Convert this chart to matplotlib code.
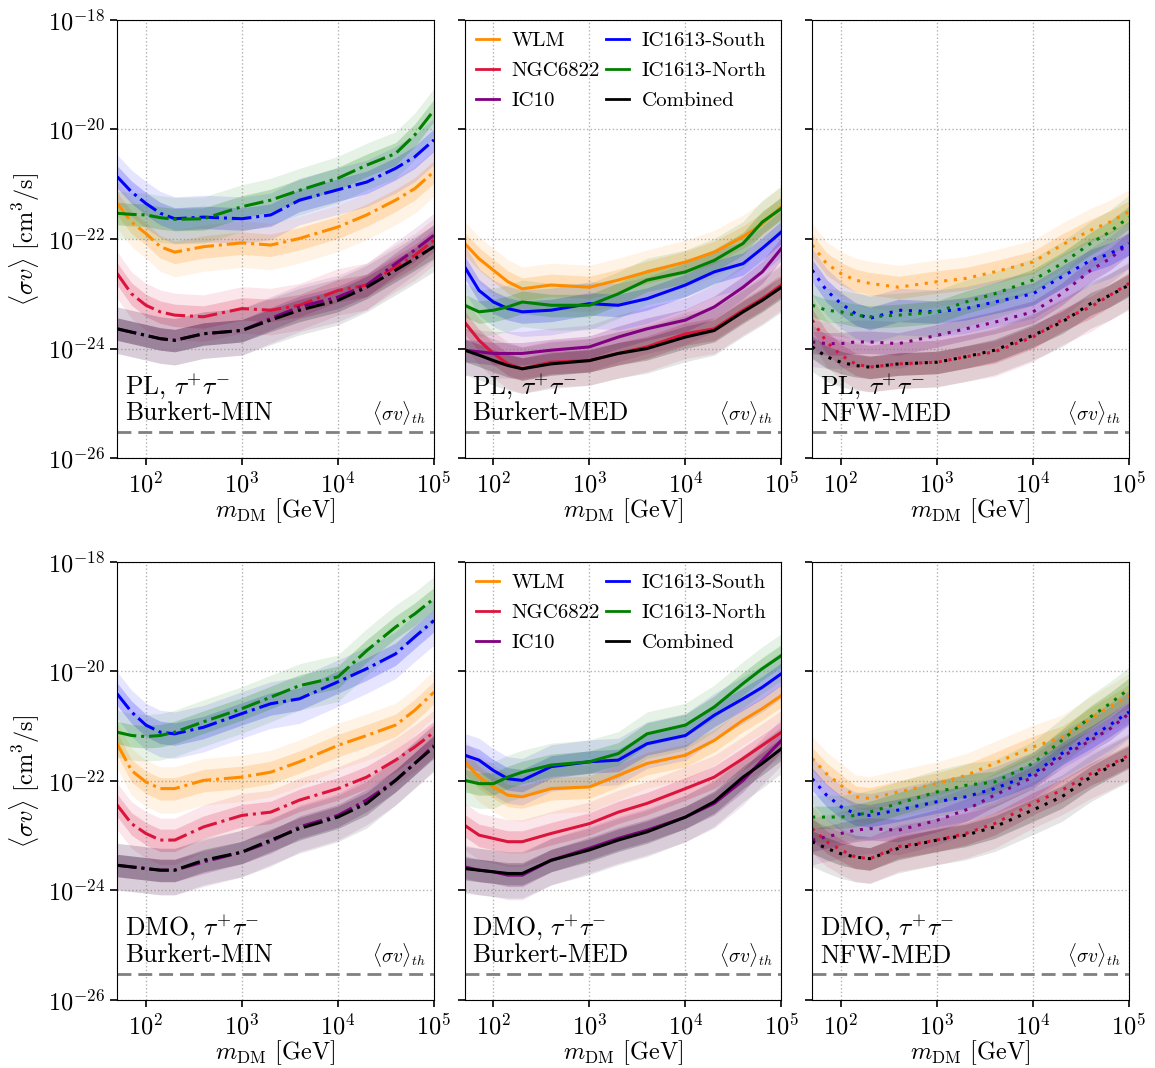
import numpy as np
import matplotlib
matplotlib.use("Agg")
import matplotlib.pyplot as plt

plt.rcParams['font.family'] = ['cmr10', 'DejaVu Serif']
plt.rcParams['mathtext.fontset'] = 'cm'
plt.rcParams['axes.formatter.use_mathtext'] = True

# dark matter masses (log10 GeV) at which the limits are tabulated
log_mass = [1.7, 1.85, 2.0, 2.15, 2.3, 2.6, 3.0, 3.3, 3.6, 4.0, 4.3, 4.6, 4.8, 5.0]

sources = ['WLM', 'NGC6822', 'IC10', 'IC1613-South', 'IC1613-North', 'Combined']
colors = ['darkorange', 'crimson', 'purple', 'blue', 'green', 'black']

# log10 <sigma v> upper limits [cm^3/s], one list per source
pl_bur_min = {
    'WLM':          [-21.35, -21.69, -21.90, -22.14, -22.24, -22.14, -22.07, -22.11, -21.99, -21.78, -21.56, -21.29, -21.08, -20.77],
    'NGC6822':      [-22.63, -23.00, -23.21, -23.33, -23.39, -23.42, -23.27, -23.30, -23.21, -22.94, -22.84, -22.51, -22.30, -22.02],
    'IC10':         [-23.64, -23.70, -23.76, -23.82, -23.85, -23.73, -23.67, -23.45, -23.24, -23.06, -22.84, -22.45, -22.20, -21.93],
    'IC1613-South': [-20.86, -21.14, -21.35, -21.53, -21.63, -21.60, -21.63, -21.56, -21.29, -21.10, -20.96, -20.71, -20.50, -20.19],
    'IC1613-North': [-21.53, -21.55, -21.56, -21.61, -21.64, -21.63, -21.41, -21.29, -21.11, -20.89, -20.65, -20.44, -20.10, -19.65],
    'Combined':     [-23.64, -23.70, -23.76, -23.82, -23.85, -23.73, -23.67, -23.48, -23.30, -23.12, -22.88, -22.57, -22.36, -22.14],
}
pl_bur_med = {
    'WLM':          [-22.08, -22.36, -22.57, -22.78, -22.91, -22.84, -22.88, -22.75, -22.60, -22.42, -22.24, -21.96, -21.72, -21.41],
    'NGC6822':      [-23.52, -23.85, -24.09, -24.28, -24.37, -24.25, -24.22, -24.09, -23.97, -23.73, -23.64, -23.30, -23.09, -22.84],
    'IC10':         [-24.03, -24.06, -24.09, -24.09, -24.09, -24.03, -23.97, -23.79, -23.64, -23.48, -23.24, -22.88, -22.60, -22.17],
    'IC1613-South': [-22.51, -22.94, -23.15, -23.27, -23.33, -23.30, -23.18, -23.21, -23.09, -22.84, -22.60, -22.45, -22.17, -21.87],
    'IC1613-North': [-23.21, -23.33, -23.30, -23.24, -23.15, -23.21, -23.21, -23.00, -22.75, -22.60, -22.39, -22.08, -21.69, -21.44],
    'Combined':     [-24.03, -24.12, -24.22, -24.31, -24.37, -24.28, -24.22, -24.09, -24.00, -23.79, -23.67, -23.33, -23.12, -22.88],
}
pl_nfw_med = {
    'WLM':          [-22.11, -22.45, -22.63, -22.75, -22.81, -22.88, -22.78, -22.72, -22.60, -22.42, -22.11, -21.84, -21.69, -21.50],
    'NGC6822':      [-23.48, -23.88, -24.12, -24.28, -24.34, -24.28, -24.25, -24.15, -24.06, -23.79, -23.48, -23.24, -23.03, -22.81],
    'IC10':         [-23.88, -23.91, -23.91, -23.88, -23.88, -23.91, -23.76, -23.64, -23.52, -23.33, -23.00, -22.57, -22.36, -22.08],
    'IC1613-South': [-22.57, -22.94, -23.18, -23.36, -23.45, -23.30, -23.33, -23.27, -23.15, -23.00, -22.69, -22.39, -22.27, -22.08],
    'IC1613-North': [-23.21, -23.30, -23.33, -23.39, -23.42, -23.39, -23.33, -23.15, -23.00, -22.75, -22.45, -22.08, -21.87, -21.60],
    'Combined':     [-23.97, -24.15, -24.25, -24.31, -24.34, -24.28, -24.25, -24.15, -24.03, -23.76, -23.52, -23.18, -23.03, -22.84],
}
dmo_bur_min = {
    'WLM':          [-21.32, -21.81, -22.02, -22.14, -22.14, -21.99, -21.93, -21.84, -21.65, -21.35, -21.17, -20.98, -20.71, -20.38],
    'NGC6822':      [-22.44, -22.78, -22.96, -23.08, -23.08, -22.84, -22.63, -22.57, -22.35, -22.14, -21.93, -21.62, -21.38, -21.11],
    'IC10':         [-23.54, -23.57, -23.60, -23.63, -23.63, -23.48, -23.30, -23.11, -22.84, -22.63, -22.35, -21.99, -21.68, -21.35],
    'IC1613-South': [-20.41, -20.74, -20.98, -21.11, -21.14, -21.02, -20.77, -20.59, -20.50, -20.19, -19.95, -19.68, -19.37, -19.07],
    'IC1613-North': [-21.11, -21.17, -21.19, -21.17, -21.11, -20.92, -20.68, -20.47, -20.26, -20.10, -19.62, -19.19, -18.95, -18.67],
    'Combined':     [-23.54, -23.57, -23.60, -23.63, -23.63, -23.45, -23.30, -23.08, -22.87, -22.66, -22.41, -21.99, -21.68, -21.38],
}
dmo_bur_med = {
    'WLM':          [-21.65, -21.93, -22.11, -22.26, -22.29, -22.14, -22.11, -21.90, -21.68, -21.53, -21.26, -20.89, -20.68, -20.44],
    'NGC6822':      [-22.81, -22.99, -23.05, -23.11, -23.11, -22.96, -22.78, -22.57, -22.41, -22.14, -21.93, -21.59, -21.35, -21.11],
    'IC10':         [-23.57, -23.63, -23.66, -23.72, -23.72, -23.45, -23.23, -23.05, -22.90, -22.66, -22.41, -21.99, -21.62, -21.26],
    'IC1613-South': [-21.53, -21.62, -21.81, -21.96, -21.99, -21.74, -21.65, -21.62, -21.32, -21.17, -20.80, -20.50, -20.29, -20.04],
    'IC1613-North': [-21.99, -22.05, -22.05, -21.93, -21.84, -21.71, -21.65, -21.50, -21.14, -20.98, -20.65, -20.22, -19.95, -19.71],
    'Combined':     [-23.60, -23.63, -23.66, -23.69, -23.69, -23.45, -23.26, -23.08, -22.93, -22.66, -22.38, -21.93, -21.68, -21.41],
}
dmo_nfw_med = {
    'WLM':          [-21.59, -21.87, -22.08, -22.29, -22.32, -22.20, -22.05, -21.90, -21.68, -21.38, -21.20, -20.86, -20.65, -20.44],
    'NGC6822':      [-22.87, -23.11, -23.26, -23.39, -23.42, -23.20, -23.08, -22.96, -22.78, -22.41, -22.17, -21.87, -21.71, -21.53],
    'IC10':         [-23.08, -23.02, -22.96, -22.90, -22.87, -22.90, -22.72, -22.53, -22.26, -21.93, -21.56, -21.26, -21.05, -20.77],
    'IC1613-South': [-21.96, -22.26, -22.47, -22.60, -22.63, -22.53, -22.38, -22.29, -22.14, -21.87, -21.50, -21.20, -20.98, -20.74],
    'IC1613-North': [-22.66, -22.66, -22.66, -22.63, -22.57, -22.41, -22.20, -22.08, -22.02, -21.68, -21.26, -20.83, -20.59, -20.32],
    'Combined':     [-23.11, -23.23, -23.33, -23.39, -23.42, -23.23, -23.08, -22.99, -22.84, -22.53, -22.29, -21.93, -21.74, -21.56],
}

# expected-limit containment bands, in dex around each limit (lower, upper)
band_68 = (0.21, 0.20)
band_95 = (0.45, 0.40)

sigmav_thermal = 3e-26

dotted = (0, (1, 2.2))
panels = [
    (pl_bur_min, 'PL', 'Burkert-MIN', '-.'),
    (pl_bur_med, 'PL', 'Burkert-MED', '-'),
    (pl_nfw_med, 'PL', 'NFW-MED', dotted),
    (dmo_bur_min, 'DMO', 'Burkert-MIN', '-.'),
    (dmo_bur_med, 'DMO', 'Burkert-MED', '-'),
    (dmo_nfw_med, 'DMO', 'NFW-MED', dotted),
]

fig, axes = plt.subplots(2, 3, figsize=(11.55, 10.68), dpi=100, sharey=True)
plt.subplots_adjust(left=0.1013, right=0.9775, top=0.9813, bottom=0.0637,
                    wspace=0.0965, hspace=0.237)

mass = 10 ** np.array(log_mass)

for k, (ax, (lims, jmod, prof, ls)) in enumerate(zip(axes.flat, panels)):
    for src, c in zip(sources, colors):
        y = np.array(lims[src])
        ax.fill_between(mass, 10 ** (y - band_95[0]), 10 ** (y + band_95[1]),
                        color=c, alpha=0.1, lw=0)
        ax.fill_between(mass, 10 ** (y - band_68[0]), 10 ** (y + band_68[1]),
                        color=c, alpha=0.2, lw=0)
    for src, c in zip(sources, colors):
        ax.plot(mass, 10 ** np.array(lims[src]), color=c, ls=ls, lw=2.2)

    ax.axhline(sigmav_thermal, color='gray', ls='--', lw=2, dashes=(5, 2.5))
    ax.text(0.975, 0.07, r'$\langle\sigma v\rangle_{th}$', transform=ax.transAxes,
            ha='right', va='bottom', fontsize=14)
    ax.text(0.025, 0.075, jmod + r', $\tau^{+}\tau^{-}$' + '\n' + prof,
            transform=ax.transAxes, ha='left', va='bottom', fontsize=18.5,
            linespacing=1.05)

    ax.set_xscale('log')
    ax.set_yscale('log')
    ax.set_xlim(50, 1e5)
    ax.set_ylim(1e-26, 1e-18)
    ax.set_xticks([1e2, 1e3, 1e4, 1e5])
    ax.set_yticks([1e-26, 1e-24, 1e-22, 1e-20, 1e-18])
    ax.minorticks_off()
    ax.tick_params(labelsize=17.5, length=5, width=1.2)
    ax.tick_params(axis='x', pad=5)
    ax.grid(True, ls=':', color='gray', alpha=0.6, lw=1)
    ax.set_xlabel(r'$m_{\rm DM}$ [GeV]', fontsize=17.5, labelpad=-1)
    if k % 3 == 0:
        ax.set_ylabel(r'$\langle\sigma v\rangle$ [cm$^3$/s]', fontsize=17.5)

    if k % 3 == 1:
        handles = [plt.Line2D([], [], color=c, lw=2) for c in colors]
        ax.legend(handles, sources, loc='upper left', ncol=2, frameon=False,
                  fontsize=15, handlelength=1.1, columnspacing=0.3,
                  handletextpad=0.6, labelspacing=0.55, borderaxespad=0.15)

plt.savefig('out.png')
